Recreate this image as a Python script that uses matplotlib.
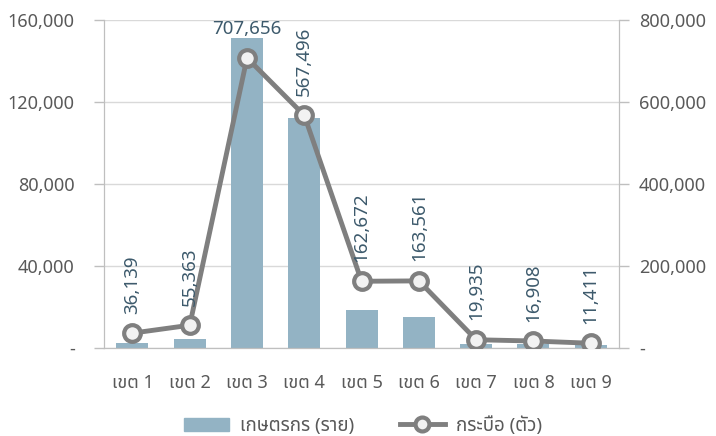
import matplotlib
matplotlib.use("Agg")
import matplotlib.pyplot as plt
from matplotlib.ticker import FuncFormatter
from matplotlib.lines import Line2D
import matplotlib.patches as mpatches

plt.rcParams["font.family"] = ["Noto Sans", "Noto Sans Thai", "DejaVu Sans"]

zones = ["เขต 1", "เขต 2", "เขต 3", "เขต 4", "เขต 5", "เขต 6", "เขต 7", "เขต 8", "เขต 9"]
farmers = [2200, 4500, 151000, 112000, 18500, 15000, 1900, 2000, 1500]
buffalo = [36139, 55363, 707656, 567496, 162672, 163561, 19935, 16908, 11411]

bar_col = "#93b3c4"
line_col = "#7f7f7f"
lab_col = "#3d5a6c"
tick_col = "#595959"
grid_col = "#d9d9d9"
spine_col = "#bfbfbf"


def fmt(v, _):
    return "-" if v == 0 else f"{v:,.0f}"


fig = plt.figure(figsize=(7.16, 4.36), dpi=100)
ax = fig.add_axes([0.145, 0.202, 0.72, 0.752])
ax2 = ax.twinx()

x = range(len(zones))
ax.bar(x, farmers, width=0.56, color=bar_col, zorder=2)
ax.set_ylim(0, 160000)
ax.set_yticks([0, 40000, 80000, 120000, 160000])
ax.yaxis.set_major_formatter(FuncFormatter(fmt))
ax.grid(axis="y", color=grid_col, linewidth=1, zorder=0)
ax.set_xlim(-0.5, len(zones) - 0.5)
ax.set_xticks(list(x))
ax.set_xticklabels(zones)

ax2.plot(x, buffalo, color=line_col, linewidth=3.5, marker="o", markersize=12,
         markerfacecolor="#f2f2f2", markeredgecolor=line_col, markeredgewidth=3,
         zorder=3)
ax2.set_ylim(0, 800000)
ax2.set_yticks([0, 200000, 400000, 600000, 800000])
ax2.yaxis.set_major_formatter(FuncFormatter(fmt))

for a in (ax, ax2):
    a.spines["top"].set_visible(False)
    a.spines["left"].set_color(spine_col)
    a.spines["right"].set_color(spine_col)
    a.spines["bottom"].set_color(spine_col)
    a.tick_params(axis="y", colors=spine_col, labelcolor=tick_col,
                  labelsize=13, length=7, width=1)
ax.tick_params(axis="y", pad=14)
ax2.tick_params(axis="y", pad=7)
ax.tick_params(axis="x", length=0, labelcolor=tick_col, labelsize=13, pad=19)

for i, v in enumerate(buffalo):
    if i == 2:
        # no room above the peak, so this one sits flat at the top
        ax.text(i, 151000, f"{v:,}", ha="center", va="bottom",
                fontsize=13.5, color=lab_col, zorder=5)
        continue
    ax2.annotate(f"{v:,}", (i, v), xytext=(0, 14), textcoords="offset points",
                 ha="center", va="bottom", rotation=90,
                 fontsize=13.5, color=lab_col, zorder=5)

handles = [
    mpatches.Patch(color=bar_col, label="เกษตรกร (ราย)"),
    Line2D([], [], color=line_col, linewidth=3.5, marker="o", markersize=10,
           markerfacecolor="#f2f2f2", markeredgecolor=line_col,
           markeredgewidth=3, label="กระบือ (ตัว)"),
]
fig.legend(handles=handles, loc="center", bbox_to_anchor=(0.507, 0.024),
           ncol=2, frameon=False, fontsize=13.5, labelcolor=tick_col,
           handlelength=2.4, columnspacing=2.4, handletextpad=0.6)

fig.savefig("out.png", dpi=100)
